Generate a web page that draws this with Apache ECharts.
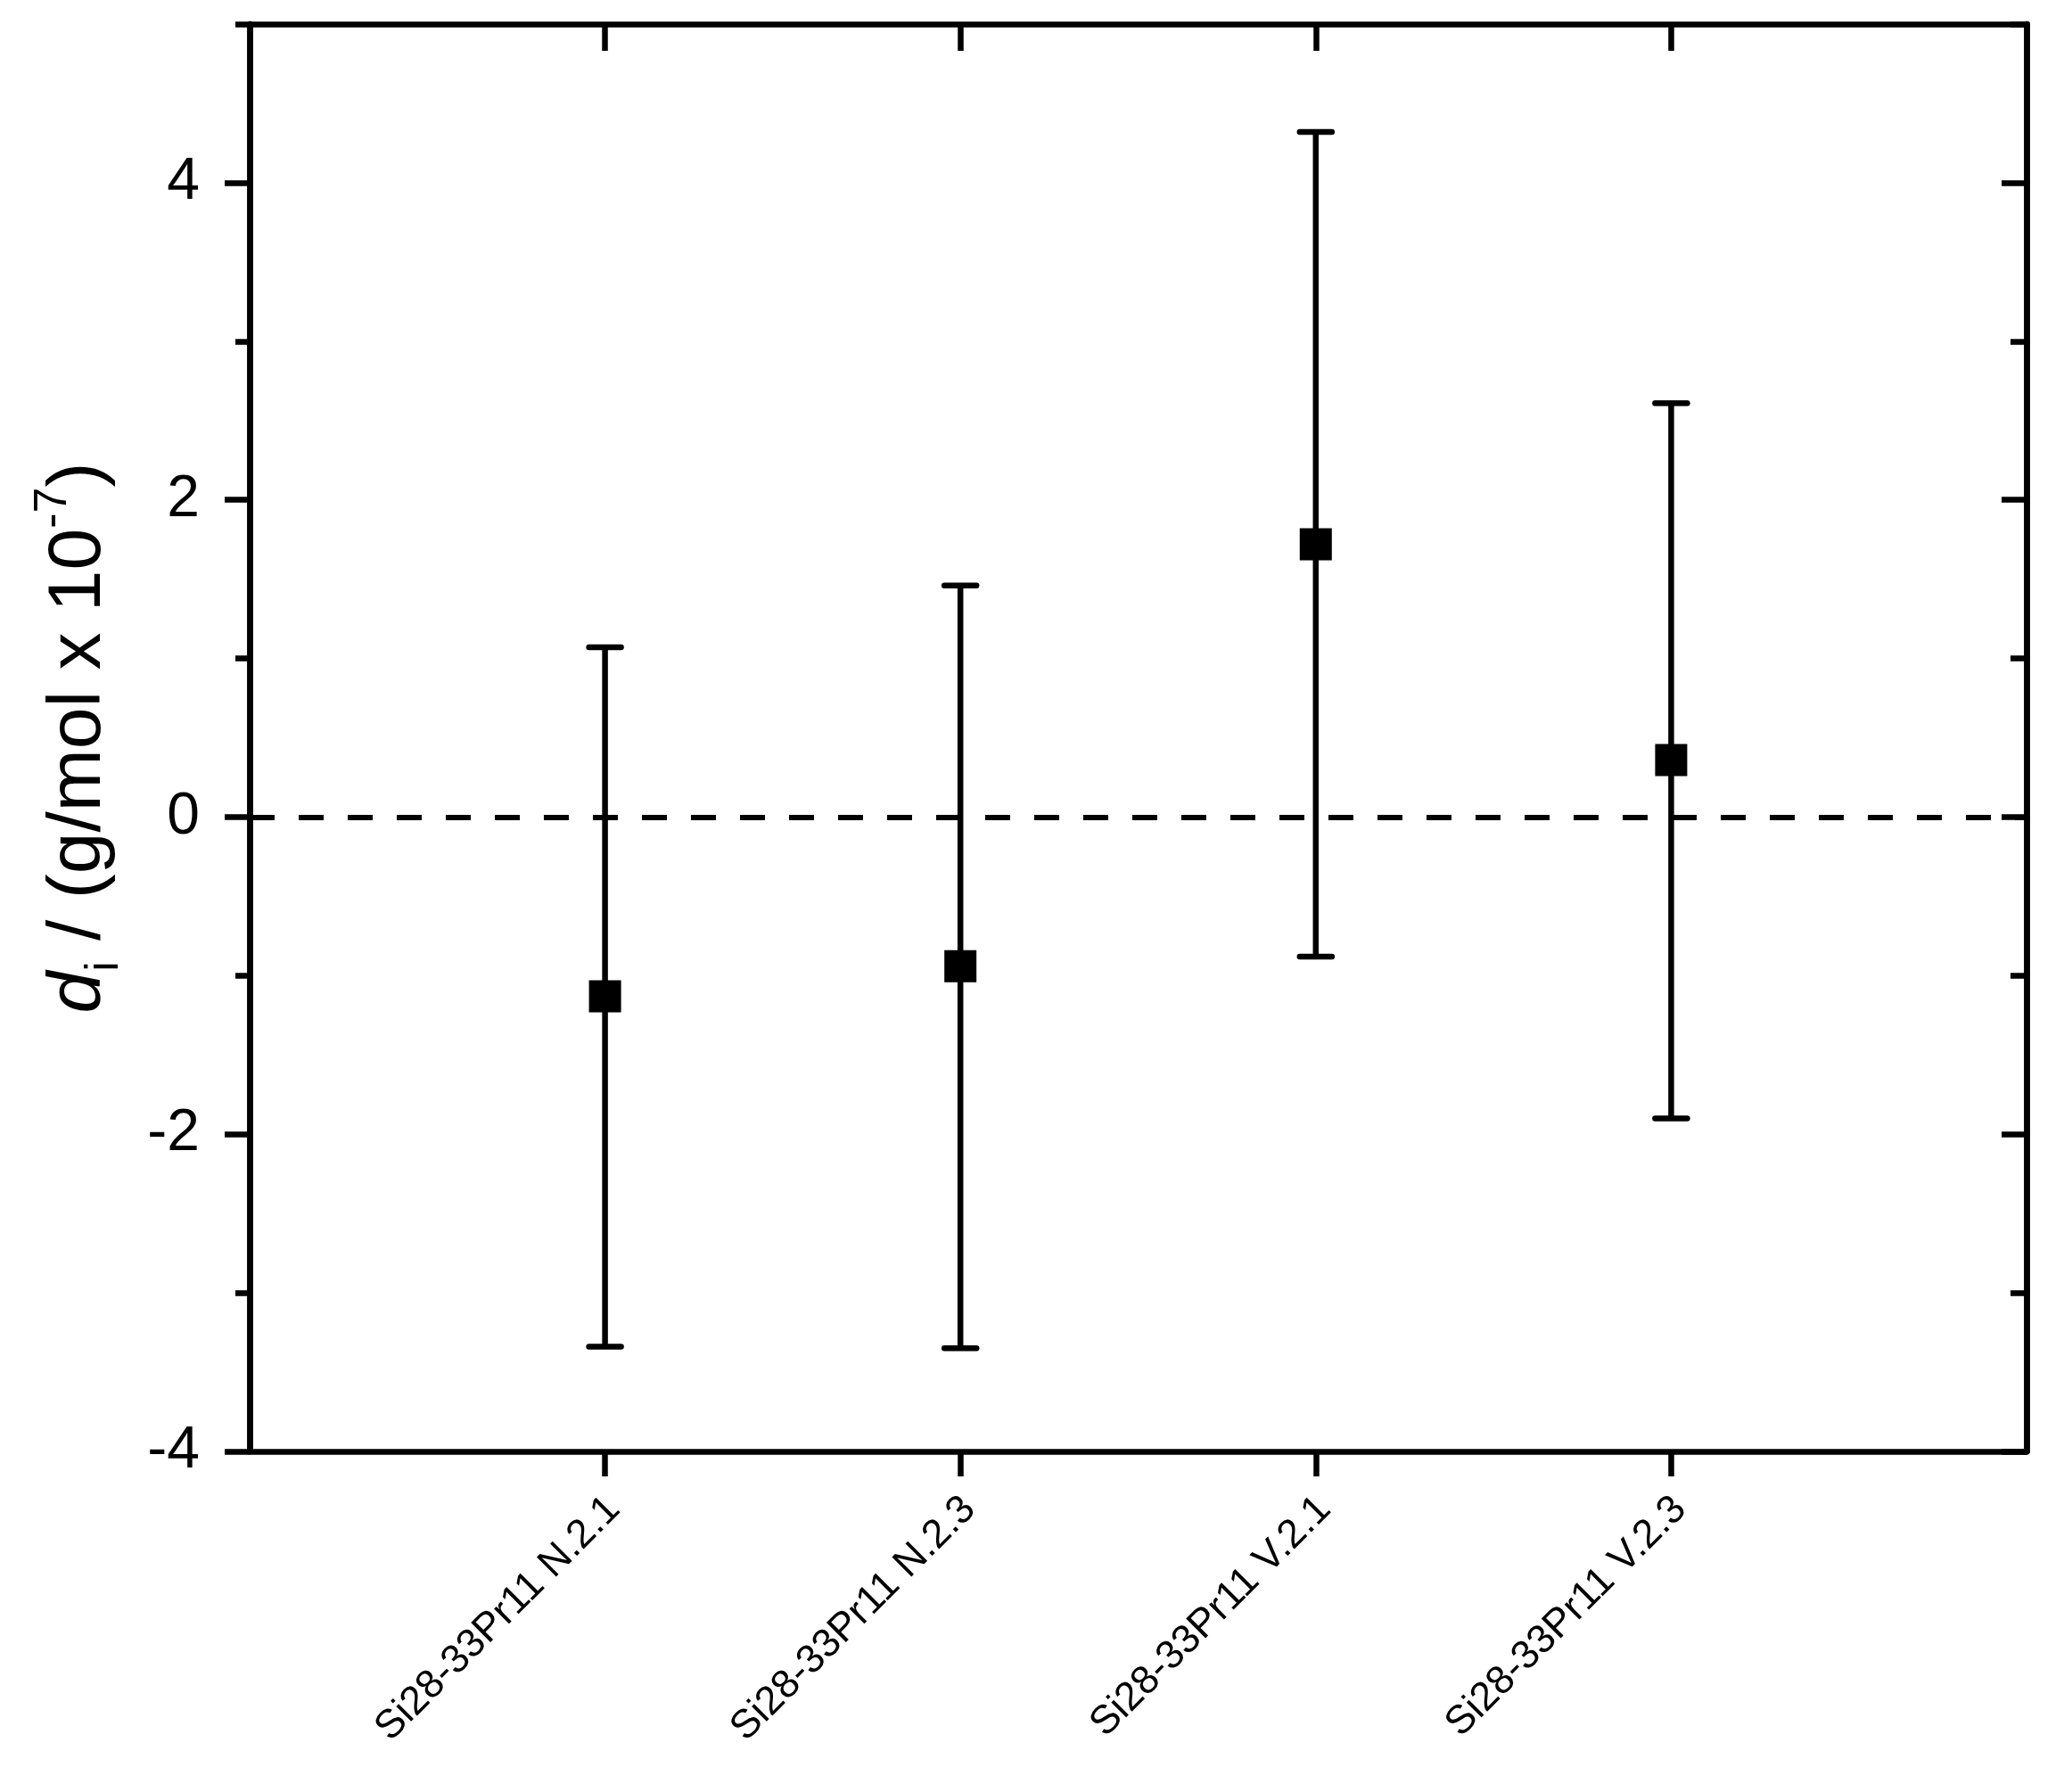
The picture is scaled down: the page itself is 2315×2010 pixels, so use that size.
<!DOCTYPE html>
<html>
<head>
<meta charset="utf-8">
<script src="https://cdn.jsdelivr.net/npm/echarts@6/dist/echarts.min.js"></script>
<style>
html,body{margin:0;padding:0;background:#fff;}
#chart{width:2315px;height:2010px;}
</style>
</head>
<body>
<div id="chart"></div>
<script>
// ---- data ----
const categories = ['Si28-33Pr11 N.2.1', 'Si28-33Pr11 N.2.3', 'Si28-33Pr11 V.2.1', 'Si28-33Pr11 V.2.3'];
const positions = [1, 2, 3, 4];
const values = [-1.13, -0.94, 1.72, 0.36];
const errLow = [-3.34, -3.35, -0.88, -1.90];
const errHigh = [1.07, 1.46, 4.32, 2.61];
const yMajorTicks = [-4, -2, 0, 2, 4];
const yMinorTicks = [-3, -1, 1, 3, 5];

const FONT = 'Arial, "Liberation Sans", sans-serif';
const BLACK = '#000';
const AXW = 6.5;

const chart = echarts.init(document.getElementById('chart'), null, {renderer: 'canvas'});

const scatterData = positions.map((p, i) => [p, values[i]]);
const errData = positions.map((p, i) => [p, errLow[i], errHigh[i]]);

function yAxisBase(extra) {
  return Object.assign({
    type: 'value', min: -4, max: 5, interval: 1,
    splitLine: {show: false},
    axisLine: {show: true, onZero: false, lineStyle: {color: BLACK, width: AXW}},
    axisLabel: {show: false},
    axisTick: {show: true, lineStyle: {color: BLACK, width: AXW}},
  }, extra);
}
function xAxisBase(extra) {
  return Object.assign({
    type: 'value', min: 0, max: 5, interval: 1,
    splitLine: {show: false},
    axisLine: {show: true, onZero: false, lineStyle: {color: BLACK, width: AXW}},
    axisLabel: {show: false},
    axisTick: {show: true, customValues: positions, lineStyle: {color: BLACK, width: AXW}},
  }, extra);
}

const option = {
  backgroundColor: '#fff',
  animation: false,
  textStyle: {fontFamily: FONT, color: BLACK},
  grid: {left: 280, right: 42, top: 27, bottom: 382, containLabel: false, outerBoundsMode: 'none'},
  xAxis: [
    xAxisBase({
      position: 'bottom',
      axisTick: {show: true, inside: false, length: 28, customValues: positions, lineStyle: {color: BLACK, width: AXW}},
      axisLabel: {
        show: true, customValues: positions, rotate: 45, margin: 68,
        fontSize: 45, color: BLACK, fontFamily: FONT,
        padding: [0, -14, 0, 0],
        formatter: v => categories[Math.round(v) - 1] || ''
      }
    }),
    xAxisBase({
      position: 'top',
      axisTick: {show: true, inside: true, length: 30, customValues: positions, lineStyle: {color: BLACK, width: AXW}}
    })
  ],
  yAxis: [
    yAxisBase({
      position: 'left',
      axisTick: {show: true, inside: false, length: 28, customValues: yMajorTicks, lineStyle: {color: BLACK, width: AXW}},
      axisLabel: {show: true, customValues: yMajorTicks, margin: 56, fontSize: 66, color: BLACK, fontFamily: FONT},
      name: '{it|d}{sub|i}{n| / (g/mol x 10}{sup|-7}{n|)}',
      nameLocation: 'middle',
      nameGap: 136,
      nameRotate: 90,
      nameTextStyle: {
        color: BLACK, fontFamily: FONT,
        rich: {
          it: {fontSize: 84, fontStyle: 'italic', fontFamily: FONT, color: BLACK, lineHeight: 110, verticalAlign: 'middle'},
          n: {fontSize: 84, fontFamily: FONT, color: BLACK, lineHeight: 110, verticalAlign: 'middle'},
          sub: {fontSize: 52, fontFamily: FONT, color: BLACK, verticalAlign: 'bottom', lineHeight: 52},
          sup: {fontSize: 52, fontFamily: FONT, color: BLACK, verticalAlign: 'top', lineHeight: 52}
        }
      }
    }),
    yAxisBase({
      position: 'left',
      axisTick: {show: true, inside: false, length: 16, customValues: yMinorTicks, lineStyle: {color: BLACK, width: AXW}}
    }),
    yAxisBase({
      position: 'right',
      axisTick: {show: true, inside: true, length: 28, customValues: yMajorTicks, lineStyle: {color: BLACK, width: AXW}}
    }),
    yAxisBase({
      position: 'right',
      axisTick: {show: true, inside: true, length: 18, customValues: yMinorTicks, lineStyle: {color: BLACK, width: AXW}}
    })
  ],
  series: [
    {
      type: 'custom',
      xAxisIndex: 0, yAxisIndex: 0,
      data: errData,
      z: 3,
      silent: true,
      renderItem: function (params, api) {
        const x = api.value(0);
        const lo = api.coord([x, api.value(1)]);
        const hi = api.coord([x, api.value(2)]);
        const cap = 18;
        const style = {stroke: BLACK, lineWidth: 6.5, lineCap: 'round'};
        return {
          type: 'group',
          children: [
            {type: 'line', shape: {x1: lo[0], y1: lo[1], x2: hi[0], y2: hi[1]}, style: {stroke: BLACK, lineWidth: 6.5}},
            {type: 'line', shape: {x1: hi[0] - cap, y1: hi[1], x2: hi[0] + cap, y2: hi[1]}, style: style},
            {type: 'line', shape: {x1: lo[0] - cap, y1: lo[1], x2: lo[0] + cap, y2: lo[1]}, style: style}
          ]
        };
      }
    },
    {
      type: 'scatter',
      xAxisIndex: 0, yAxisIndex: 0,
      data: scatterData,
      symbol: 'rect',
      symbolSize: 36,
      z: 5,
      itemStyle: {color: BLACK, opacity: 1},
      markLine: {
        silent: true,
        symbol: ['none', 'none'],
        label: {show: false},
        lineStyle: {color: BLACK, width: 6, type: [28, 27]},
        data: [{yAxis: 0}]
      }
    }
  ]
};
chart.setOption(option);
</script>
</body>
</html>
